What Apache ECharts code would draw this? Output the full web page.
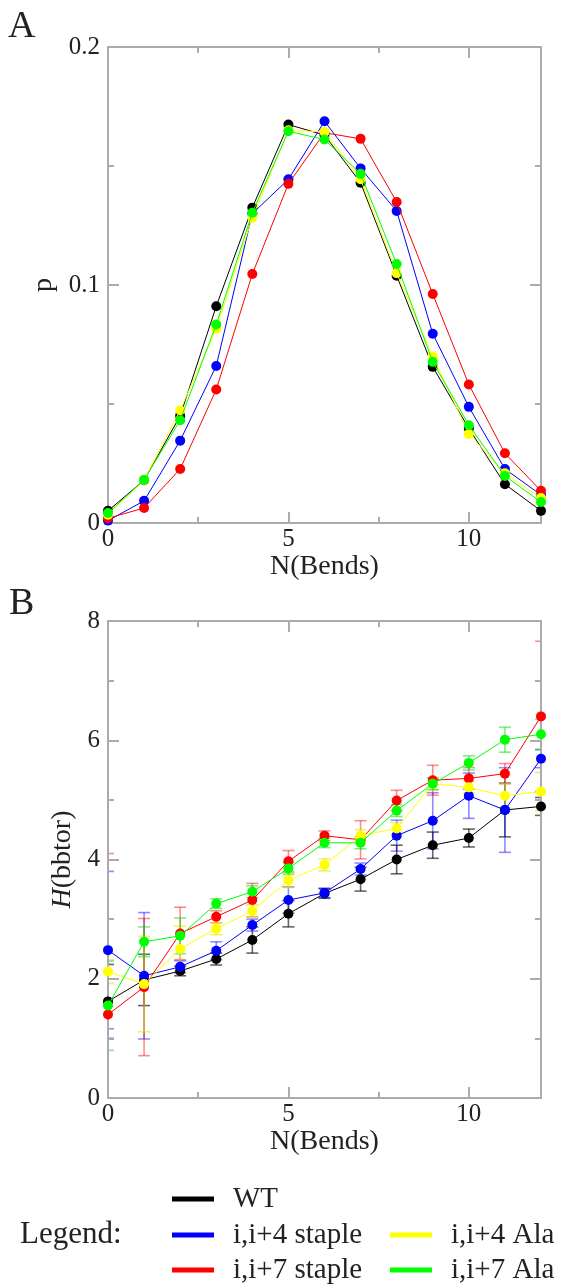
<!DOCTYPE html>
<html>
<head>
<meta charset="utf-8">
<script src="https://cdn.jsdelivr.net/npm/echarts@6/dist/echarts.min.js"></script>
<style>
html,body{margin:0;padding:0;background:#fff;}
#chart{width:563px;height:1287px;}
</style>
</head>
<body>
<div id="chart"></div>
<script>
// ---- data ----
const nBends = [0, 1, 2, 3, 4, 5, 6, 7, 8, 9, 10, 11, 12];
const seriesNames = ['WT', 'i,i+4 staple', 'i,i+7 staple', 'i,i+4 Ala', 'i,i+7 Ala'];

// Panel A: probability p
const pWT      = [0.0051, 0.0180, 0.0450, 0.0911, 0.1325, 0.1674, 0.1630, 0.1430, 0.1039, 0.0656, 0.0397, 0.0163, 0.0051];
const pI4Stap  = [0.0010, 0.0093, 0.0346, 0.0660, 0.1300, 0.1444, 0.1688, 0.1490, 0.1311, 0.0795, 0.0488, 0.0227, 0.0118];
const pI7Stap  = [0.0020, 0.0063, 0.0227, 0.0561, 0.1046, 0.1425, 0.1640, 0.1614, 0.1349, 0.0962, 0.0582, 0.0293, 0.0135];
const pI4Ala   = [0.0035, 0.0180, 0.0474, 0.0816, 0.1283, 0.1650, 0.1643, 0.1444, 0.1050, 0.0700, 0.0374, 0.0209, 0.0105];
const pI7Ala   = [0.0042, 0.0181, 0.0432, 0.0834, 0.1304, 0.1646, 0.1611, 0.1467, 0.1088, 0.0677, 0.0411, 0.0198, 0.0088];

// Panel B: H(bbtor) and error bars
const hWT      = [1.62, 1.98, 2.13, 2.33, 2.65, 3.09, 3.43, 3.67, 4.00, 4.24, 4.36, 4.83, 4.89];
const hI4Stap  = [2.48, 2.05, 2.20, 2.47, 2.90, 3.32, 3.44, 3.84, 4.40, 4.65, 5.07, 4.83, 5.69];
const hI7Stap  = [1.40, 1.86, 2.76, 3.04, 3.32, 3.97, 4.40, 4.33, 4.99, 5.33, 5.36, 5.44, 6.40];
const hI4Ala   = [2.12, 1.91, 2.50, 2.84, 3.14, 3.65, 3.91, 4.40, 4.52, 5.27, 5.21, 5.07, 5.14];
const hI7Ala   = [1.55, 2.62, 2.72, 3.26, 3.46, 3.85, 4.28, 4.28, 4.82, 5.27, 5.62, 6.01, 6.10];

const eWT      = [0.62, 0.43, 0.08, 0.10, 0.22, 0.22, 0.08, 0.20, 0.24, 0.22, 0.15, 0.45, 0.15];
const eI4Stap  = [1.32, 1.06, 0.10, 0.15, 0.10, 0.22, 0.08, 0.10, 0.26, 0.47, 0.38, 0.71, 0.15];
const eI7Stap  = [2.70, 1.15, 0.44, 0.10, 0.28, 0.18, 0.08, 0.32, 0.17, 0.25, 0.18, 0.17, 1.26];
const eI4Ala   = [0.20, 0.80, 0.38, 0.10, 0.10, 0.12, 0.10, 0.10, 0.10, 0.10, 0.10, 0.20, 0.32];
const eI7Ala   = [0.75, 0.25, 0.30, 0.08, 0.10, 0.10, 0.08, 0.10, 0.10, 0.10, 0.12, 0.21, 0.25];

const pSets = [pWT, pI4Stap, pI7Stap, pI4Ala, pI7Ala];
const hSets = [hWT, hI4Stap, hI7Stap, hI4Ala, hI7Ala];
const eSets = [eWT, eI4Stap, eI7Stap, eI4Ala, eI7Ala];

// ---- styles ----
const colors = ['#000000', '#0000ff', '#ff0000', '#ffff00', '#00ff00'];
const errColors = ['rgba(0,0,0,0.6)', 'rgba(0,0,255,0.45)', 'rgba(255,0,0,0.45)', 'rgba(230,230,0,0.6)', 'rgba(0,220,0,0.5)'];
const font = 'Liberation Serif';
const frame = '#ababab';
const txt = '#222';
const tickSize = 25;
const nameSize = 28;

function xAxesFor(g) {
  const base = {gridIndex: g, type: 'value', min: 0, max: 12, splitLine: {show: false}, z: 2};
  const line = {show: true, onZero: false, lineStyle: {color: frame, width: 2}};
  return [
    Object.assign({}, base, {
      position: 'bottom', interval: 5, axisLine: line,
      axisTick: {show: true, inside: true, length: 11, lineStyle: {color: frame, width: 2}},
      axisLabel: {show: true, showMaxLabel: false, fontFamily: font, fontSize: tickSize, color: txt, margin: 4},
      name: 'N(Bends)', nameLocation: 'middle', nameGap: 28,
      nameTextStyle: {fontFamily: font, fontSize: nameSize, color: txt}
    }),
    Object.assign({}, base, {
      position: 'bottom', interval: 2.5, axisLine: {show: false, onZero: false},
      axisTick: {show: true, inside: true, length: 6, lineStyle: {color: frame, width: 2}},
      axisLabel: {show: false}
    }),
    Object.assign({}, base, {
      position: 'top', interval: 5, axisLine: line,
      axisTick: {show: true, inside: true, length: 11, lineStyle: {color: frame, width: 2}},
      axisLabel: {show: false}
    }),
    Object.assign({}, base, {
      position: 'top', interval: 2.5, axisLine: {show: false, onZero: false},
      axisTick: {show: true, inside: true, length: 6, lineStyle: {color: frame, width: 2}},
      axisLabel: {show: false}
    })
  ];
}

function yAxesFor(g, max, interval, name, gap) {
  const base = {
    gridIndex: g, type: 'value', min: 0, max: max, interval: interval, splitLine: {show: false}, z: 2,
    axisLine: {show: true, onZero: false, lineStyle: {color: frame, width: 2}},
    axisTick: {show: true, inside: true, length: 11, lineStyle: {color: frame, width: 2}},
    minorTick: {show: true, splitNumber: 2, length: 6, lineStyle: {color: frame, width: 2}},
    minorSplitLine: {show: false}
  };
  return [
    Object.assign({}, base, {
      position: 'left',
      axisLabel: {show: true, fontFamily: font, fontSize: tickSize, color: txt, margin: 8},
      name: name, nameLocation: 'middle', nameGap: gap, nameRotate: 90,
      nameTextStyle: {fontFamily: font, fontSize: nameSize, color: txt,
        rich: {i: {fontFamily: font, fontSize: nameSize, fontStyle: 'italic', color: txt}}}
    }),
    Object.assign({}, base, {position: 'right', axisLabel: {show: false}})
  ];
}

const series = [];
// error bars (panel B)
eSets.forEach((errs, k) => {
  series.push({
    type: 'custom', name: 'err-' + seriesNames[k], xAxisIndex: 4, yAxisIndex: 2, clip: true, z: 1,
    silent: true,
    data: nBends.map((x, i) => [x, hSets[k][i], errs[i]]),
    renderItem: function (params, api) {
      const x = api.value(0), y = api.value(1), e = api.value(2);
      const top = api.coord([x, y + e]);
      const bot = api.coord([x, y - e]);
      const w = 6;
      const st = {stroke: errColors[k], lineWidth: 1.6};
      return {
        type: 'group',
        children: [
          {type: 'line', shape: {x1: top[0], y1: top[1], x2: bot[0], y2: bot[1]}, style: st},
          {type: 'line', shape: {x1: top[0] - w, y1: top[1], x2: top[0] + w, y2: top[1]}, style: st},
          {type: 'line', shape: {x1: bot[0] - w, y1: bot[1], x2: bot[0] + w, y2: bot[1]}, style: st}
        ]
      };
    }
  });
});
// lines
[[pSets, 0, 0], [hSets, 4, 2]].forEach(([sets, xi, yi]) => {
  sets.forEach((vals, k) => {
    series.push({
      type: 'line', name: seriesNames[k], xAxisIndex: xi, yAxisIndex: yi,
      data: nBends.map((x, i) => [x, vals[i]]),
      symbol: 'circle', symbolSize: 10, showSymbol: true,
      lineStyle: {width: 1, color: colors[k]},
      itemStyle: {color: colors[k]},
      z: 3 + k
    });
  });
});

const legendText = {fontFamily: font, fontSize: 29, color: txt, padding: [0, 0, 0, 14], lineHeight: 32};
const legendBase = {
  icon: 'rect', itemWidth: 42, itemHeight: 5, padding: 0, orient: 'vertical', itemGap: 3,
  textStyle: legendText, selectedMode: false
};

const option = {
  animation: false,
  backgroundColor: '#ffffff',
  grid: [
    {left: 108, top: 47, width: 433, height: 476},
    {left: 108, top: 621, width: 433, height: 477}
  ],
  xAxis: xAxesFor(0).concat(xAxesFor(1)),
  yAxis: yAxesFor(0, 0.2, 0.1, 'p', 50).concat(yAxesFor(1, 8, 2, '{i|H}(bbtor)', 22)),
  legend: [
    Object.assign({}, legendBase, {left: 172, top: 1183, data: ['WT']}),
    Object.assign({}, legendBase, {left: 172, top: 1219, data: ['i,i+4 staple', 'i,i+7 staple']}),
    Object.assign({}, legendBase, {left: 390, top: 1219, data: ['i,i+4 Ala', 'i,i+7 Ala']})
  ],
  graphic: [
    {type: 'text', left: 8, top: 8, style: {text: 'A', font: '38px "Liberation Serif"', fill: txt}},
    {type: 'text', left: 9, top: 585, style: {text: 'B', font: '38px "Liberation Serif"', fill: txt}},
    {type: 'text', left: 20, top: 1219, style: {text: 'Legend:', font: '31px "Liberation Serif"', fill: txt}}
  ],
  series: series
};

const chart = echarts.init(document.getElementById('chart'), null, {renderer: 'canvas'});
chart.setOption(option);
</script>
</body>
</html>
